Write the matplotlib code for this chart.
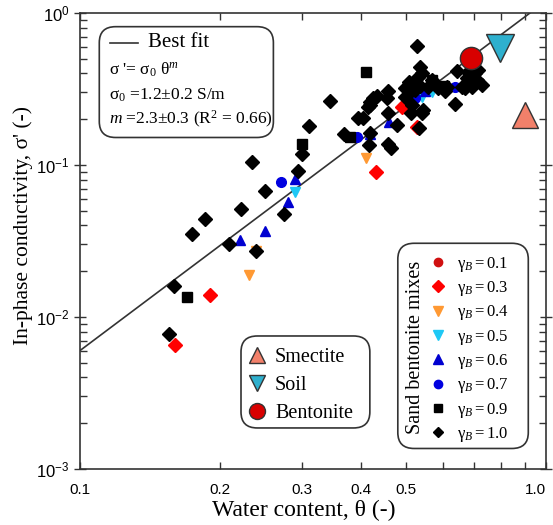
"""In-phase conductivity vs water content, sand-bentonite mixes (log-log)."""
import matplotlib
matplotlib.use("Agg")
import matplotlib.pyplot as plt
import numpy as np
from matplotlib.lines import Line2D
from matplotlib.patches import FancyBboxPatch
from matplotlib.ticker import FixedLocator, NullFormatter

matplotlib.rcParams.update({
    "font.family": "serif", "font.serif": ["Liberation Serif"],
    "mathtext.fontset": "custom",
    "mathtext.rm": "Liberation Serif", "mathtext.it": "Liberation Serif:italic",
    "mathtext.sf": "Liberation Sans",
    "axes.linewidth": 1.2, "axes.edgecolor": "#333333",
})

# --- data ---
# gamma_B = 0.3 (red diamonds)
th_03 = [0.160, 0.190, 0.431, 0.490, 0.529]
sg_03 = [0.00655, 0.0140, 0.0895, 0.242, 0.177]
# gamma_B = 0.4 (orange down triangles)
th_04 = [0.230, 0.239, 0.410]
sg_04 = [0.0190, 0.0272, 0.112]
# gamma_B = 0.5 (cyan down triangles)
th_05 = [0.290, 0.541, 0.568]
sg_05 = [0.0668, 0.280, 0.304]
# gamma_B = 0.6 (blue up triangles)
th_06 = [0.220, 0.250, 0.280, 0.290, 0.419, 0.460, 0.550]
sg_06 = [0.0321, 0.0368, 0.0567, 0.0803, 0.159, 0.193, 0.307]
# gamma_B = 0.7 (blue circles)
th_07 = [0.270, 0.393, 0.523, 0.638]
sg_07 = [0.0773, 0.152, 0.276, 0.327]
# gamma_B = 0.9 (black squares)
th_09 = [0.170, 0.300, 0.411, 0.380, 0.570, 0.604]
sg_09 = [0.0135, 0.137, 0.409, 0.153, 0.360, 0.331]
# gamma_B = 1.0 (black diamonds)
th_10 = [0.155, 0.159, 0.174, 0.185, 0.209, 0.222, 0.234, 0.239, 0.250, 0.274,
         0.294, 0.300, 0.310, 0.344, 0.368, 0.417, 0.457, 0.459, 0.465, 0.480,
         0.394, 0.405, 0.419, 0.426, 0.433, 0.419, 0.416, 0.455, 0.459, 0.513,
         0.545, 0.541, 0.533, 0.528, 0.537, 0.541, 0.532, 0.507, 0.515, 0.498,
         0.511, 0.523, 0.498, 0.515, 0.559, 0.568, 0.587, 0.612, 0.607, 0.638,
         0.643, 0.681, 0.704, 0.676, 0.710, 0.698, 0.728, 0.693, 0.670, 0.659,
         0.715, 0.419, 0.537]
sg_10 = [0.00769, 0.0159, 0.0354, 0.0438, 0.0304, 0.0510, 0.104, 0.0273, 0.0675, 0.0478,
         0.0920, 0.118, 0.181, 0.264, 0.159, 0.135, 0.221, 0.137, 0.129, 0.183,
         0.203, 0.205, 0.261, 0.275, 0.286, 0.248, 0.242, 0.275, 0.307, 0.219,
         0.230, 0.221, 0.175, 0.609, 0.443, 0.401, 0.381, 0.353, 0.336, 0.320,
         0.304, 0.311, 0.281, 0.248, 0.327, 0.363, 0.320, 0.327, 0.308, 0.252,
         0.417, 0.411, 0.401, 0.372, 0.363, 0.345, 0.336, 0.327, 0.320, 0.327,
         0.422, 0.162, 0.331]

# pure materials
th_smectite, sg_smectite = 0.902, 0.212
th_soil, sg_soil = 0.797, 0.589
th_bentonite, sg_bentonite = 0.689, 0.506

# best fit sigma' = sigma0 * theta^m
sigma0, m_exp = 1.2, 2.3

fig = plt.figure(figsize=(5.53, 5.25), dpi=100)
ax = fig.add_axes([80 / 553, 56 / 525, 466 / 553, 456 / 525])
ax.set_xscale("log")
ax.set_yscale("log")

th_fit = np.logspace(-1, 0, 100)
ax.plot(th_fit, sigma0 * th_fit ** m_exp, "-", color="#333333", lw=1.2, zorder=2)

ms = 7
ax.plot(th_03, sg_03, "D", color="#FF0000", ms=ms, ls="none", zorder=3)
ax.plot(th_04, sg_04, "v", color="#FF9933", ms=ms + 0.5, ls="none", zorder=3)
ax.plot(th_05, sg_05, "v", color="#1EC8F5", ms=ms + 0.5, ls="none", zorder=3)
ax.plot(th_06, sg_06, "^", color="#0000D0", ms=ms + 0.5, ls="none", zorder=3)
ax.plot(th_07, sg_07, "o", color="#0000E0", ms=ms, ls="none", zorder=3)
ax.plot(th_09, sg_09, "s", color="black", ms=ms - 0.5, ls="none", zorder=3)
ax.plot(th_10, sg_10, "D", color="black", ms=ms, ls="none", zorder=4)

ax.plot(th_smectite, sg_smectite, "^", color="#F2806A", mec="#333333", mew=1, ms=19, zorder=5)
ax.plot(th_soil, sg_soil, "v", color="#2EB0CE", mec="#333333", mew=1, ms=20, zorder=5)
ax.plot(th_bentonite, sg_bentonite, "o", color="#D80000", mec="#333333", mew=1, ms=16, zorder=5)

ax.set_xlim(0.1, 1.0)
ax.set_ylim(1e-3, 1.0)

# ticks
xt = [0.1, 0.2, 0.3, 0.4, 0.5, 1.0]
ax.xaxis.set_major_locator(FixedLocator(xt))
ax.xaxis.set_minor_locator(FixedLocator([0.6, 0.7, 0.8, 0.9]))
ax.xaxis.set_minor_formatter(NullFormatter())
ax.set_xticklabels(["0.1", "0.2", "0.3", "0.4", "0.5", "1.0"], family="Liberation Sans", fontsize=11)
# last label sits at the figure edge, keep it inside
ax.xaxis.get_major_ticks()[-1].label1.set_horizontalalignment("right")
yt = [1e-3, 1e-2, 1e-1, 1]
ax.set_yticks(yt)
ax.set_yticklabels([r"$\mathsf{10^{-3}}$", r"$\mathsf{10^{-2}}$", r"$\mathsf{10^{-1}}$", r"$\mathsf{10^{0}}$"], fontsize=12)
ax.tick_params(which="both", top=True, right=True, direction="in", color="#333333", width=1)
ax.tick_params(axis="x", which="both", length=5, pad=10)
ax.tick_params(axis="y", which="major", direction="inout", length=9, pad=3)
ax.tick_params(axis="y", which="minor", length=5)

ax.set_xlabel("Water content, θ (-)", fontsize=17)
ax.xaxis.set_label_coords(0.481, -0.067)
ax.set_ylabel("In-phase conductivity, σ' (-)", fontsize=15.5)
ax.yaxis.set_label_coords(-0.101, 0.533)

# fit box (upper left)
ax.add_patch(FancyBboxPatch((0.0414, 0.727), 0.3736, 0.243, boxstyle="round,pad=0,rounding_size=0.035",
                            transform=ax.transAxes, fc="white", ec="#333333", lw=1.2, zorder=6))
ax.plot([0.064, 0.125], [0.935, 0.935], "-", color="#333333", lw=1.2, transform=ax.transAxes, zorder=7)
ax.text(0.146, 0.935, "Best fit", fontsize=15, va="center", transform=ax.transAxes, zorder=7)
ax.text(0.063, 0.875, r"$\mathrm{\sigma}$ '= $\mathrm{\sigma_0\ \theta}^{m}$", fontsize=12.5,
        va="center", transform=ax.transAxes, zorder=7)
ax.text(0.063, 0.82, r"$\mathrm{\sigma}_0$ =1.2$\pm$0.2 S/m", fontsize=12.5,
        va="center", transform=ax.transAxes, zorder=7)
ax.text(0.063, 0.767, r"$m$ =2.3$\pm$0.3 (R$^2$ = 0.66)", fontsize=12.5,
        va="center", transform=ax.transAxes, zorder=7)

# pure materials legend
ax.add_patch(FancyBboxPatch((0.3455, 0.090), 0.2765, 0.2017, boxstyle="round,pad=0,rounding_size=0.035",
                            transform=ax.transAxes, fc="white", ec="#333333", lw=1.2, zorder=6))
mat_handles = [
    Line2D([], [], marker="^", ls="none", color="#F2806A", mec="#333333", ms=12),
    Line2D([], [], marker="v", ls="none", color="#2EB0CE", mec="#333333", ms=12),
    Line2D([], [], marker="o", ls="none", color="#D80000", mec="#333333", ms=11.5),
]
leg1 = ax.legend(mat_handles, ["Smectite", "Soil", "Bentonite"], loc="upper left",
                 bbox_to_anchor=(0.358, 0.266), fontsize=14.5, frameon=False,
                 handlelength=1.0, handletextpad=0.4, labelspacing=0.45, borderpad=0, borderaxespad=0)
leg1.set_zorder(8)
ax.add_artist(leg1)

# sand bentonite mixes legend
ax.add_patch(FancyBboxPatch((0.682, 0.045), 0.28, 0.45, boxstyle="round,pad=0,rounding_size=0.035",
                            transform=ax.transAxes, fc="white", ec="#333333", lw=1.2, zorder=6))
ax.text(0.719, 0.266, "Sand bentonite mixes", rotation=90, fontsize=14.5, ha="center", va="center",
        transform=ax.transAxes, zorder=7)
gam_labels = ["0.1", "0.3", "0.4", "0.5", "0.6", "0.7", "0.9", "1.0"]
gam_handles = [
    Line2D([], [], marker="o", ls="none", color="#D01010", ms=6),
    Line2D([], [], marker="D", ls="none", color="#FF0000", ms=6.5),
    Line2D([], [], marker="v", ls="none", color="#FF9933", ms=7),
    Line2D([], [], marker="v", ls="none", color="#1EC8F5", ms=7),
    Line2D([], [], marker="^", ls="none", color="#0000D0", ms=7),
    Line2D([], [], marker="o", ls="none", color="#0000E0", ms=6),
    Line2D([], [], marker="s", ls="none", color="black", ms=5.5),
    Line2D([], [], marker="D", ls="none", color="black", ms=5),
]
leg2 = ax.legend(gam_handles, [r"$\mathrm{\gamma}_{B}=$" + g for g in gam_labels], loc="upper left",
                 bbox_to_anchor=(0.751, 0.470), fontsize=12, frameon=False, handlelength=1.0,
                 handletextpad=0.6, labelspacing=0.32, borderpad=0, borderaxespad=0)
leg2.set_zorder(8)

fig.savefig("out.png", dpi=100)
